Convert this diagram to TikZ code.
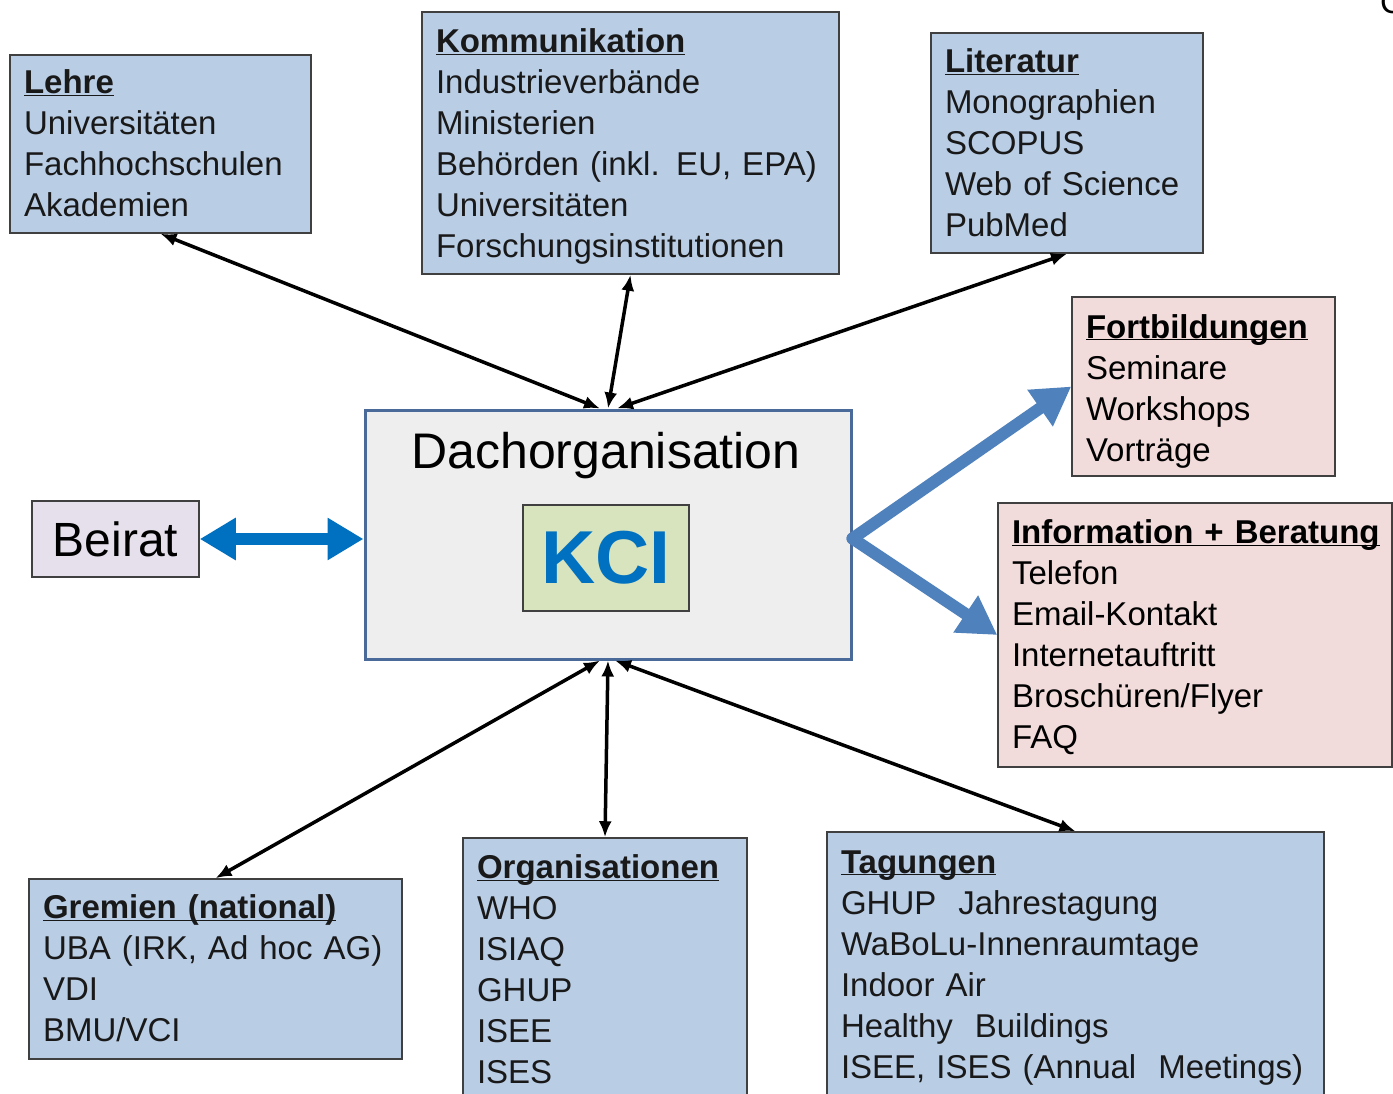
\documentclass[tikz,border=0pt]{standalone}
\usepackage{fontspec}
\setmainfont{Liberation Sans}
\usetikzlibrary{arrows.meta}
\definecolor{boxblue}{HTML}{B9CDE5}
\definecolor{boxpink}{HTML}{F2DCDB}
\definecolor{boxlila}{HTML}{E6E0EC}
\definecolor{kcigreen}{HTML}{D7E4BD}
\definecolor{dachgrey}{HTML}{EEEEEE}
\definecolor{dachframe}{HTML}{4A6B9A}
\definecolor{kciblue}{HTML}{0070C0}
\definecolor{steelblue}{HTML}{4F81BD}
% header line of a box, optional first-line height
\newcommand\boxhead[2][0pt]{\rule{0pt}{#1}\underline{\smash{\textbf{#2}}}\vphantom{Ag}}
\begin{document}
\begin{tikzpicture}[x=1pt, y=-1pt,
	box/.style={rectangle, draw=black!75, line width=1.5pt, fill=boxblue, text=black!90,
		inner xsep=14pt, inner ysep=0pt, align=left, font=\fontsize{33}{41}\selectfont},
	pinkbox/.style={box, fill=boxpink, text=black},
	link/.style={line width=3.5pt, {Latex[length=16pt,width=13pt]}-{Latex[length=16pt,width=13pt]}},
	fatlink/.style={line width=12pt, draw=#1, line cap=round}
]
	\useasboundingbox (0,0) rectangle (1393,1094);
	\clip (0,0) rectangle (1393,1094);
	\fill[white] (0,0) rectangle (1393,1094);

	% top row
	\node (lehre) [box, minimum width=301pt, minimum height=178pt, text width=273pt] at (160.5,144)
		{\boxhead{Lehre}\\Universitäten\\Fachhochschulen\\Akademien};
	\node (komm) [box, minimum width=417pt, minimum height=262pt, text width=389pt] at (630.5,143)
		{\boxhead[31pt]{Kommunikation}\\Industrieverbände\\Ministerien\\Behörden (inkl. EU, EPA)\\Universitäten\\Forschungsinstitutionen};
	\node (lit) [box, minimum width=272pt, minimum height=220pt, text width=244pt] at (1067,143)
		{\boxhead[24pt]{Literatur}\\Monographien\\SCOPUS\\Web of Science\\PubMed};

	% right side
	\node (fort) [pinkbox, minimum width=263pt, minimum height=179pt, text width=235pt] at (1203.5,386.5)
		{\boxhead[33pt]{Fortbildungen}\\Seminare\\Workshops\\Vorträge};
	\node (info) [pinkbox, minimum width=394pt, minimum height=264pt, text width=366pt] at (1195,635)
		{\boxhead[29pt]{Information + Beratung}\\Telefon\\Email-Kontakt\\Internetauftritt\\Broschüren/Flyer\\FAQ};

	% bottom row
	\node (gremien) [box, minimum width=373pt, minimum height=180pt, text width=345pt] at (215.5,969)
		{\boxhead{Gremien (national)}\\UBA (IRK, Ad hoc AG)\\VDI\\BMU/VCI};
	\node (org) [box, minimum width=284pt, minimum height=262pt, text width=256pt] at (605,969)
		{\boxhead[24pt]{Organisationen}\\WHO\\ISIAQ\\GHUP\\ISEE\\ISES};
	\node (tag) [box, minimum width=497pt, minimum height=268pt, text width=469pt] at (1075.5,966)
		{\boxhead[26pt]{Tagungen}\\GHUP\ \ Jahrestagung\\WaBoLu-Innenraumtage\\Indoor Air\\Healthy\ \ Buildings\\ISEE, ISES (Annual\ \ Meetings)};

	% centre
	\node (dach) [rectangle, draw=dachframe, line width=3pt, fill=dachgrey,
		minimum width=486pt, minimum height=249pt] at (608,534.5) {};
	\node (dachtitle) [anchor=base, inner sep=0pt, font=\fontsize{50}{60}\selectfont] at (606,468) {Dachorganisation};
	\node (kci) [rectangle, draw=black!75, line width=1.5pt, fill=kcigreen, text=kciblue,
		minimum width=166pt, minimum height=106pt, font=\fontsize{75}{80}\selectfont\bfseries] at (606,558) {KCI};
	\node (beirat) [rectangle, draw=black!75, line width=1.5pt, fill=boxlila,
		minimum width=167pt, minimum height=76pt, font=\fontsize{48}{56}\selectfont] at (115.5,539) {Beirat};

	% corner fragment
	\node (corner) [anchor=base west, inner sep=0pt, font=\fontsize{33}{41}\selectfont] at (1380,14) {C};

	% thin links
	\foreach \src/\dx in {lehre/-8, komm/0, lit/9}
		\draw[link] (\src.south) -- ([xshift=\dx pt]dach.north);
	\foreach \dst/\dx in {gremien/-8, org/0, tag/7}
		\draw[link] ([xshift=\dx pt]dach.south) -- (\dst.north);

	% fat links
	\draw[fatlink=kciblue, line cap=butt, {Triangle[length=36pt,width=40pt]}-{Triangle[length=36pt,width=40pt]}]
		(beirat.east) -- (beirat.east -| dach.west);
	\draw[fatlink=steelblue, -{Triangle[length=38pt,width=42pt]}] ([yshift=-4pt]dach.east) -- (fort.west);
	\draw[fatlink=steelblue, -{Triangle[length=38pt,width=42pt]}] ([yshift=-4pt]dach.east) -- (info.west);
\end{tikzpicture}
\end{document}
